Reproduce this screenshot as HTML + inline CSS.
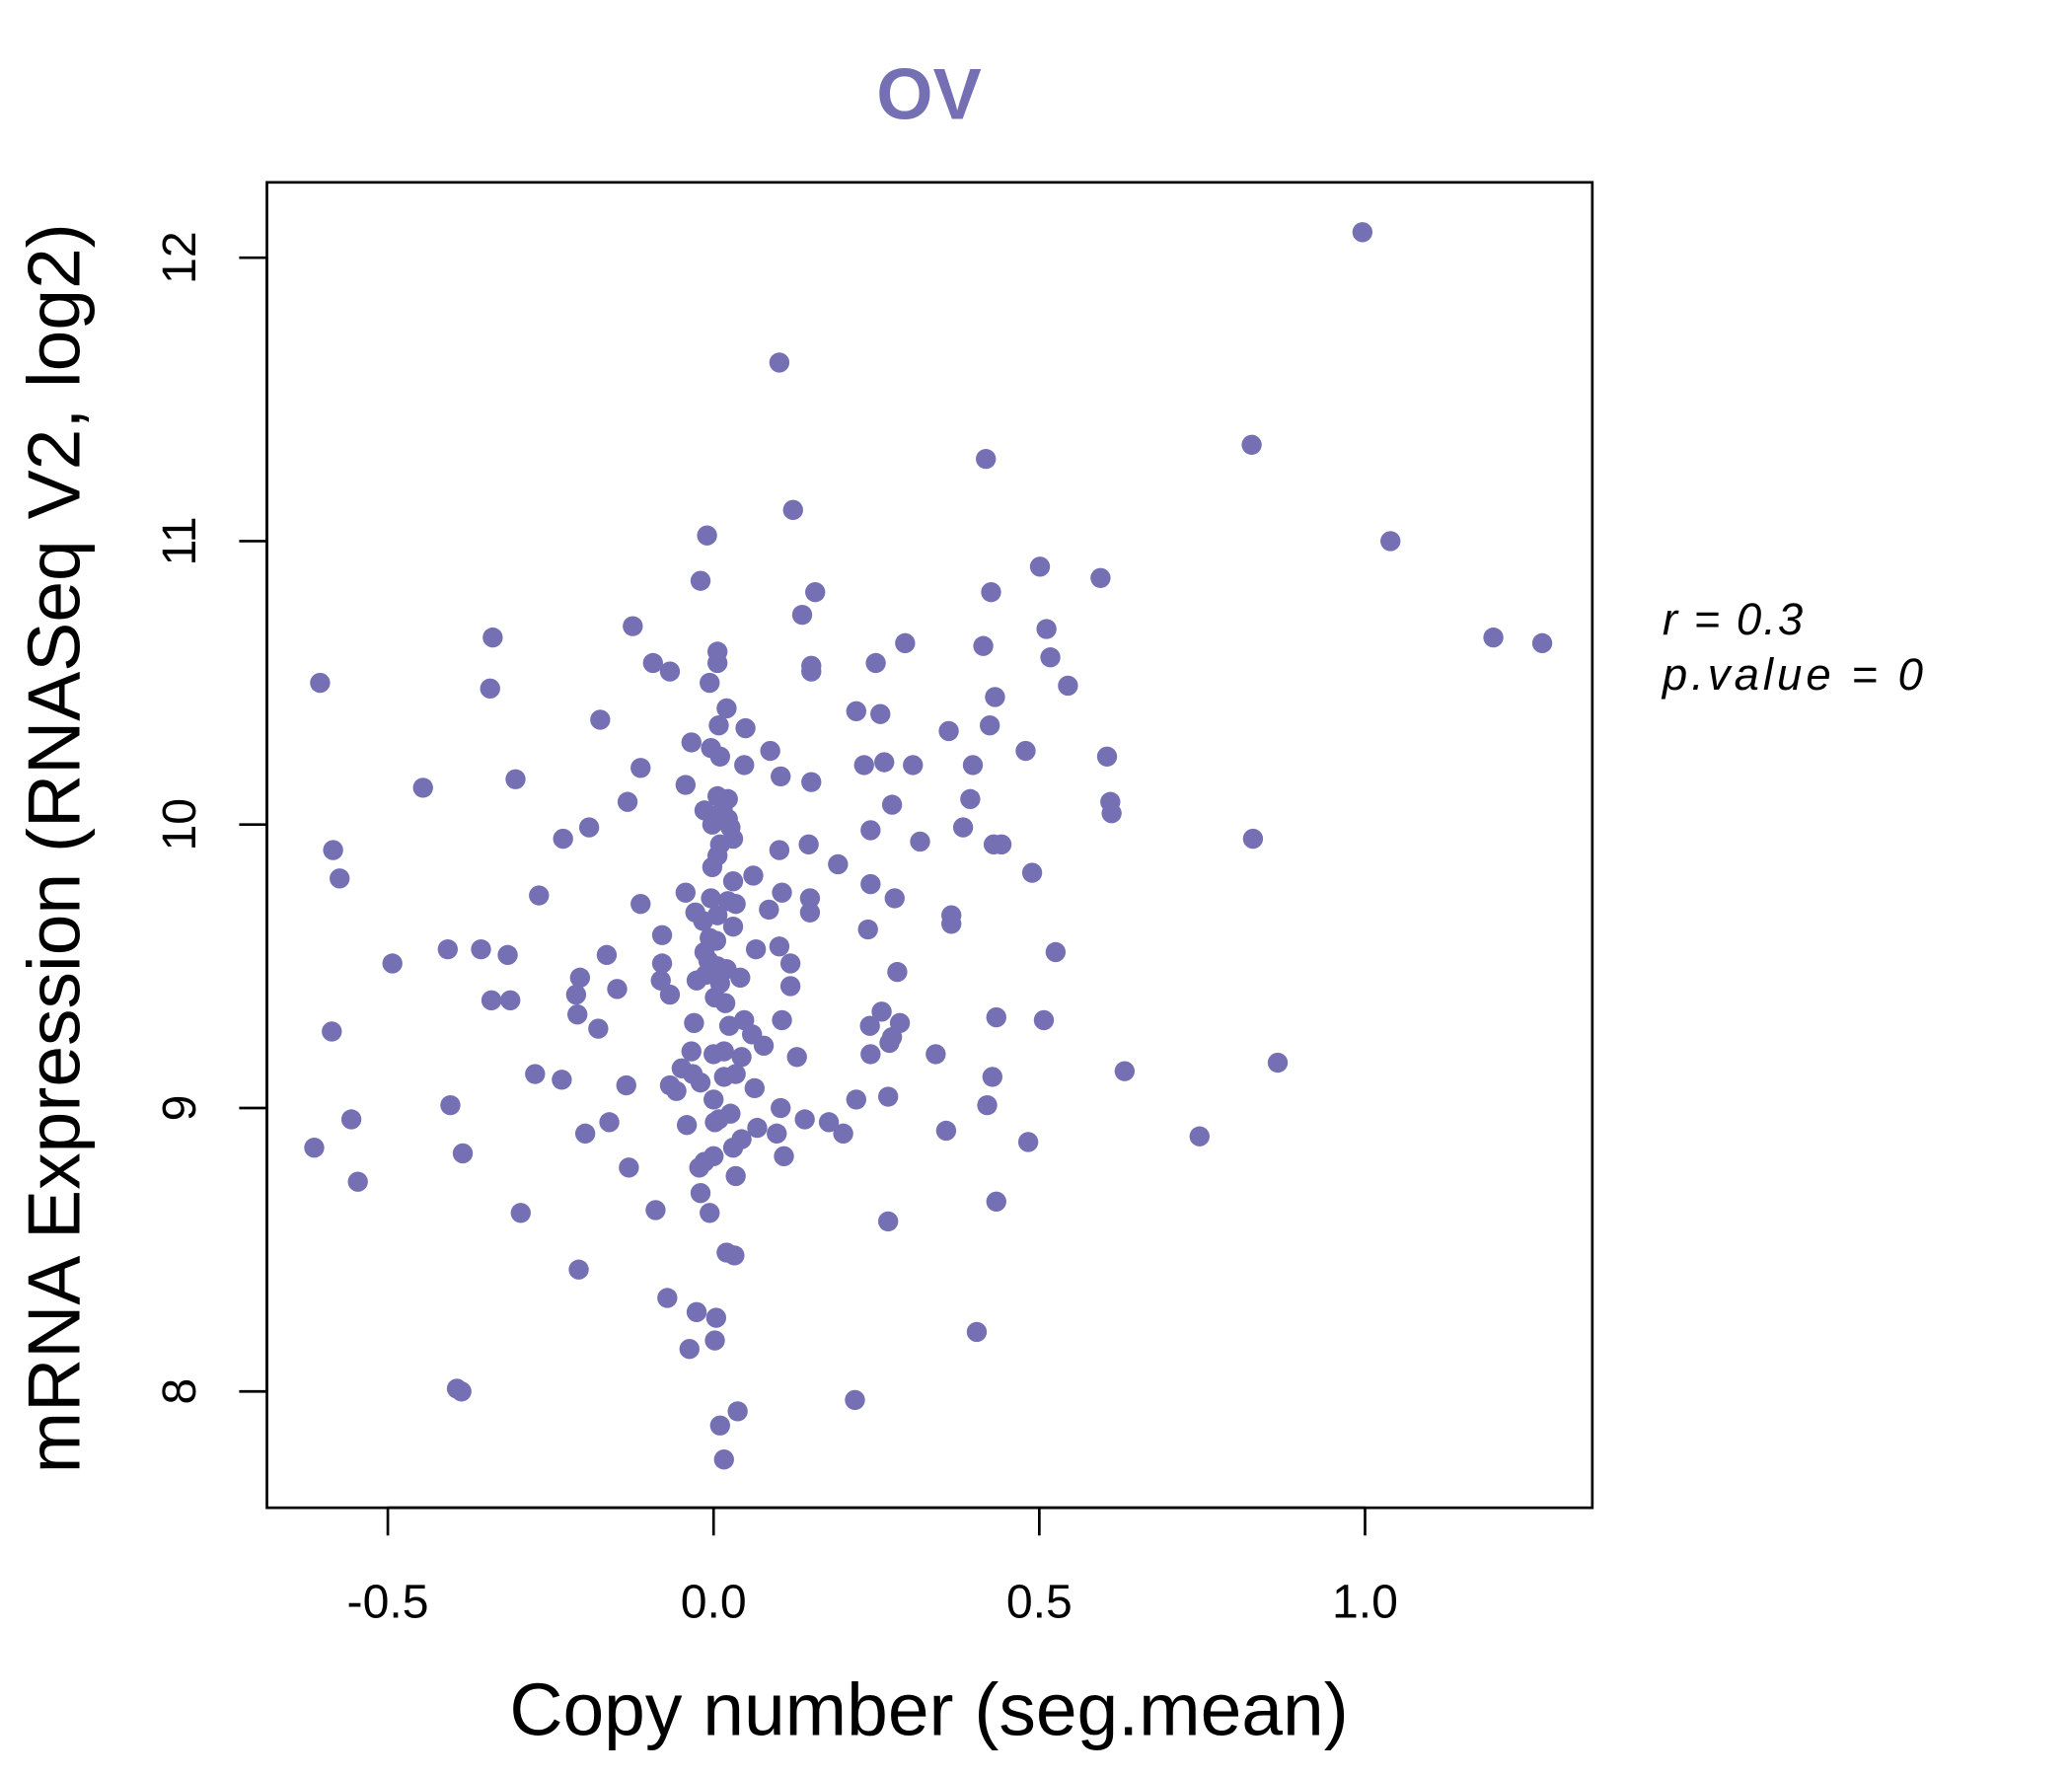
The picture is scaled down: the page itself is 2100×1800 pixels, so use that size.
<!DOCTYPE html>
<html><head><meta charset="utf-8"><style>
html,body{margin:0;padding:0;background:#fff}
svg{display:block}
text{font-family:"Liberation Sans",sans-serif}
</style></head><body>
<svg id="chart" width="2100" height="1800" viewBox="0 0 1568 1344" xmlns="http://www.w3.org/2000/svg">
<rect width="1568" height="1344" fill="#fff"/>
<text x="703" y="90" text-anchor="middle" font-size="55" font-weight="bold" fill="#7570b3">OV</text>
<rect x="202" y="138" width="1003" height="1003" fill="none" stroke="#000" stroke-width="2"/>
<g id="xaxis"></g>
<g id="yaxis"></g>
<g id="points"></g>
<text x="703" y="1313" text-anchor="middle" font-size="56">Copy number (seg.mean)</text>
<text transform="translate(60,642) rotate(-90)" text-anchor="middle" font-size="56">mRNA Expression (RNASeq V2, log2)</text>
<text x="1258" y="480" font-size="34" font-style="italic" letter-spacing="1.5">r = 0.3</text>
<text x="1258" y="522" font-size="34" font-style="italic" letter-spacing="3">p.value = 0</text>
</svg>
<script>
const xTicks=[-0.5,0,0.5,1.0];
const xTickLabels=["-0.5","0.0","0.5","1.0"];
const yTicks=[8,9,10,11,12];
const yTickLabels=["8","9","10","11","12"];
const copyNumber=[0.996,0.101,0.826,0.418,0.122,1.039,-0.010,-0.020,0.501,0.594,0.156,0.426,0.136,-0.124,0.511,1.197,1.272,-0.339,0.294,0.414,0.006,0.006,-0.093,0.150,0.249,0.517,-0.067,0.150,-0.604,-0.006,0.544,-0.343,0.432,0.020,0.219,0.256,-0.174,0.008,0.049,0.424,0.361,-0.034,-0.004,0.087,0.479,0.010,0.604,0.231,0.262,0.306,0.398,-0.112,0.047,-0.304,0.103,0.150,-0.446,-0.043,0.006,0.022,0.394,0.609,-0.132,0.274,-0.014,0.014,0.611,0,0.022,-0.002,0.026,-0.191,0.241,0.383,-0.231,0.030,0.317,0.828,0.146,0.430,0.442,0.010,0.101,-0.584,0.006,-0.002,0.191,0.489,-0.574,0.061,0.030,0.241,-0.043,-0.268,0.105,0.148,-0.004,0.022,0.034,0.278,-0.112,0.085,0.148,-0.028,0.365,0.365,0.006,-0.016,0.030,0.237,-0.079,-0.006,0.004,-0.493,-0.408,-0.357,-0.316,-0.164,-0.014,0.065,0.101,0.525,-0.008,-0.079,0.118,0.006,0.020,0.282,-0.012,0.041,-0.205,-0.081,-0.026,0.010,-0.148,0.118,-0.067,-0.211,0.002,-0.341,-0.312,0.018,0.258,-0.209,0.434,0.105,0.047,0.507,-0.030,0.286,0.024,0.240,-0.586,-0.177,0.059,0.274,0.270,0.077,0,0.016,-0.034,0.043,0.128,0.241,0.341,0.866,0.631,0.428,-0.049,-0.032,-0.274,-0.233,0.016,0.034,-0.134,-0.020,0.063,-0.067,-0.057,0.268,0,0.219,-0.404,0.420,0.103,0.026,0.008,0.140,0.002,0.177,-0.160,-0.556,-0.041,0.067,0.097,0.199,-0.197,0.357,0.746,0.483,0.043,-0.613,0.030,0.108,-0.385,0,-0.014,-0.022,-0.130,0.034,-0.546,-0.020,0.434,-0.089,-0.296,-0.006,0.268,0.020,0.032,-0.207,-0.071,-0.026,0.004,0.404,0.002,-0.037,-0.394,-0.387,0.217,0.037,0.010,0.016];
const expression=[12.09,11.63,11.34,11.29,11.11,11.00,11.02,10.86,10.91,10.87,10.82,10.82,10.74,10.70,10.69,10.66,10.64,10.66,10.64,10.63,10.61,10.57,10.57,10.56,10.57,10.59,10.54,10.54,10.50,10.50,10.49,10.48,10.45,10.41,10.40,10.39,10.37,10.35,10.34,10.35,10.33,10.29,10.27,10.26,10.26,10.24,10.24,10.21,10.22,10.21,10.21,10.20,10.21,10.16,10.17,10.15,10.13,10.14,10.10,10.09,10.09,10.08,10.08,10.07,10.05,10.05,10.04,10.03,10.02,10.00,9.99,9.99,9.98,9.99,9.95,9.95,9.94,9.95,9.93,9.93,9.93,9.93,9.91,9.91,9.89,9.85,9.86,9.83,9.81,9.82,9.80,9.79,9.76,9.75,9.76,9.74,9.74,9.73,9.72,9.74,9.72,9.70,9.69,9.69,9.68,9.65,9.68,9.66,9.64,9.63,9.61,9.60,9.59,9.51,9.56,9.56,9.54,9.54,9.55,9.56,9.57,9.55,9.52,9.51,9.51,9.50,9.49,9.48,9.47,9.46,9.46,9.45,9.45,9.44,9.42,9.43,9.40,9.40,9.39,9.38,9.38,9.37,9.34,9.33,9.32,9.31,9.31,9.31,9.30,9.30,9.29,9.29,9.27,9.28,9.26,9.25,9.23,9.22,9.19,9.20,9.20,9.18,9.18,9.19,9.19,9.16,9.13,9.11,9.14,9.12,9.12,9.10,9.11,9.12,9.08,9.09,9.07,9.08,9.06,9.04,9.03,9.03,9.01,9.01,9.00,8.98,8.96,8.96,8.95,8.95,8.95,8.96,8.94,8.93,8.91,8.91,8.91,8.92,8.90,8.88,8.89,8.86,8.86,8.83,8.84,8.83,8.81,8.79,8.79,8.76,8.74,8.70,8.67,8.64,8.63,8.63,8.60,8.49,8.48,8.43,8.33,8.28,8.26,8.21,8.18,8.15,8.01,8.00,7.97,7.93,7.88,7.76];
const NS="http://www.w3.org/2000/svg";
function xScale(v){return 540+v*493;}
function yScale(v){return 1053-(v-8)*214.5;}
function mk(tag,attrs){const e=document.createElementNS(NS,tag);for(const k in attrs)e.setAttribute(k,attrs[k]);return e;}
const xa=document.getElementById('xaxis');
xa.appendChild(mk('line',{x1:xScale(xTicks[0]),x2:xScale(xTicks[xTicks.length-1]),y1:1141,y2:1141,stroke:'#000','stroke-width':2}));
xTicks.forEach((t,i)=>{
  const l=mk('line',{x1:xScale(t),x2:xScale(t),y1:1141,y2:1162,stroke:'#000','stroke-width':2});
  
  
  xa.appendChild(l);
  const tx=mk('text',{x:xScale(t),y:1224,'text-anchor':'middle','font-size':36});
  tx.textContent=xTickLabels[i];
  
  
  xa.appendChild(tx);
});
const ya=document.getElementById('yaxis');
ya.appendChild(mk('line',{x1:202,x2:202,y1:yScale(yTicks[0]),y2:yScale(yTicks[yTicks.length-1]),stroke:'#000','stroke-width':2}));
yTicks.forEach((t,i)=>{
  const l=mk('line',{x1:181,x2:202,y1:yScale(t),y2:yScale(t),stroke:'#000','stroke-width':2});
  
  
  ya.appendChild(l);
  const tx=mk('text',{transform:'translate(148,'+yScale(t)+') rotate(-90)','text-anchor':'middle','font-size':36});
  tx.textContent=yTickLabels[i];
  
  
  ya.appendChild(tx);
});
const pg=document.getElementById('points');
copyNumber.forEach((x,i)=>{
  const c=mk('circle',{cx:xScale(x),cy:yScale(expression[i]),r:7.6,fill:'#7570b3'});
  
  
  pg.appendChild(c);
});
</script>
</body></html>
